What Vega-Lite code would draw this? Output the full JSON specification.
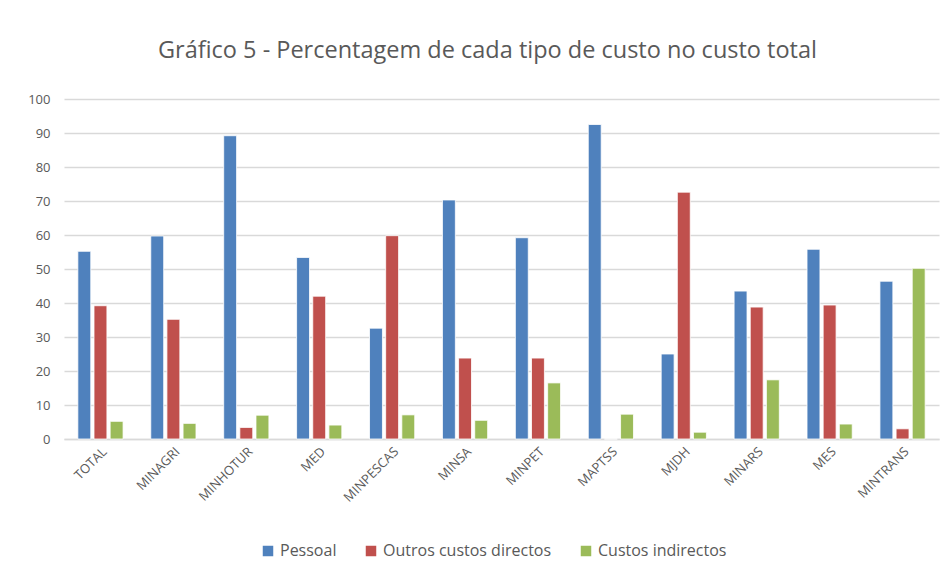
{
  "$schema": "https://vega.github.io/schema/vega-lite/v6.json",
  "autosize": {"type": "none"},
  "width": 875,
  "height": 340,
  "padding": {"left": 64, "top": 99, "right": 13, "bottom": 141},
  "background": "white",
  "title": {
    "text": "Gráfico 5 - Percentagem de cada tipo de custo no custo total",
    "anchor": "middle",
    "offset": 31,
    "dx": -14,
    "fontSize": 23.5,
    "font": "Open Sans",
    "fontWeight": "normal",
    "color": "#595959"
  },
  "data": {
    "values": [
      {"org": "TOTAL", "tipo": "Pessoal", "v": 55.2},
      {"org": "TOTAL", "tipo": "Outros custos directos", "v": 39.2},
      {"org": "TOTAL", "tipo": "Custos indirectos", "v": 5.2},
      {"org": "MINAGRI", "tipo": "Pessoal", "v": 59.7},
      {"org": "MINAGRI", "tipo": "Outros custos directos", "v": 35.2},
      {"org": "MINAGRI", "tipo": "Custos indirectos", "v": 4.6},
      {"org": "MINHOTUR", "tipo": "Pessoal", "v": 89.2},
      {"org": "MINHOTUR", "tipo": "Outros custos directos", "v": 3.4},
      {"org": "MINHOTUR", "tipo": "Custos indirectos", "v": 7.0},
      {"org": "MED", "tipo": "Pessoal", "v": 53.4},
      {"org": "MED", "tipo": "Outros custos directos", "v": 42.0},
      {"org": "MED", "tipo": "Custos indirectos", "v": 4.1},
      {"org": "MINPESCAS", "tipo": "Pessoal", "v": 32.6},
      {"org": "MINPESCAS", "tipo": "Outros custos directos", "v": 59.8},
      {"org": "MINPESCAS", "tipo": "Custos indirectos", "v": 7.1},
      {"org": "MINSA", "tipo": "Pessoal", "v": 70.3},
      {"org": "MINSA", "tipo": "Outros custos directos", "v": 23.8},
      {"org": "MINSA", "tipo": "Custos indirectos", "v": 5.5},
      {"org": "MINPET", "tipo": "Pessoal", "v": 59.2},
      {"org": "MINPET", "tipo": "Outros custos directos", "v": 23.8},
      {"org": "MINPET", "tipo": "Custos indirectos", "v": 16.5},
      {"org": "MAPTSS", "tipo": "Pessoal", "v": 92.5},
      {"org": "MAPTSS", "tipo": "Outros custos directos", "v": 0},
      {"org": "MAPTSS", "tipo": "Custos indirectos", "v": 7.3},
      {"org": "MJDH", "tipo": "Pessoal", "v": 25.0},
      {"org": "MJDH", "tipo": "Outros custos directos", "v": 72.6},
      {"org": "MJDH", "tipo": "Custos indirectos", "v": 2.0},
      {"org": "MINARS", "tipo": "Pessoal", "v": 43.5},
      {"org": "MINARS", "tipo": "Outros custos directos", "v": 38.8},
      {"org": "MINARS", "tipo": "Custos indirectos", "v": 17.4},
      {"org": "MES", "tipo": "Pessoal", "v": 55.8},
      {"org": "MES", "tipo": "Outros custos directos", "v": 39.4},
      {"org": "MES", "tipo": "Custos indirectos", "v": 4.4},
      {"org": "MINTRANS", "tipo": "Pessoal", "v": 46.4},
      {"org": "MINTRANS", "tipo": "Outros custos directos", "v": 3.0},
      {"org": "MINTRANS", "tipo": "Custos indirectos", "v": 50.2}
    ]
  },
  "mark": {"type": "bar", "stroke": "white", "strokeWidth": 0.8},
  "encoding": {
    "x": {
      "field": "org",
      "type": "nominal",
      "sort": null,
      "scale": {"paddingInner": 0.38, "paddingOuter": 0.19},
      "axis": {
        "title": null,
        "labelAngle": -45,
        "labelFont": "Open Sans",
        "labelFontSize": 13,
        "labelColor": "#595959",
        "domainColor": "#d9d9d9",
        "domainWidth": 1.5,
        "ticks": false,
        "labelPadding": 6
      }
    },
    "xOffset": {
      "field": "tipo",
      "type": "nominal",
      "sort": ["Pessoal", "Outros custos directos", "Custos indirectos"],
      "scale": {"paddingInner": 0.2}
    },
    "y": {
      "field": "v",
      "type": "quantitative",
      "scale": {"domain": [0, 100]},
      "axis": {
        "title": null,
        "values": [0, 10, 20, 30, 40, 50, 60, 70, 80, 90, 100],
        "labelOverlap": false,
        "domain": false,
        "ticks": false,
        "labelFont": "Open Sans",
        "labelFontSize": 13,
        "labelColor": "#595959",
        "labelPadding": 14,
        "gridColor": "#d9d9d9",
        "gridWidth": 1.5
      }
    },
    "color": {
      "field": "tipo",
      "type": "nominal",
      "sort": ["Pessoal", "Outros custos directos", "Custos indirectos"],
      "scale": {
        "domain": ["Pessoal", "Outros custos directos", "Custos indirectos"],
        "range": ["#4F81BD", "#C0504D", "#9BBB59"]
      },
      "legend": {
        "title": null,
        "orient": "none",
        "legendX": 196,
        "legendY": 444,
        "direction": "horizontal",
        "symbolType": "square",
        "symbolSize": 110,
        "symbolStrokeWidth": 0,
        "labelFont": "Open Sans",
        "labelFontSize": 16,
        "labelLimit": 400,
        "labelColor": "#595959",
        "labelOffset": 4,
        "columnPadding": 26
      }
    }
  },
  "config": {
    "view": {"stroke": null}
  }
}
